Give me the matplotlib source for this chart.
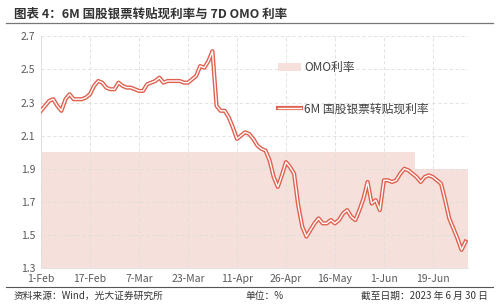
import matplotlib
matplotlib.use("Agg")
import matplotlib.pyplot as plt
import matplotlib.patheffects as pe
import numpy as np

plt.rcParams['font.family'] = ['Noto Sans CJK SC', 'DejaVu Sans']

# 6M 国股银票转贴现利率 (trading days from 1-Feb to 30-Jun 2023)
rate_6m = [
    2.25, 2.28, 2.31, 2.32, 2.28, 2.25, 2.32, 2.35, 2.32, 2.32,
    2.32, 2.33, 2.35, 2.40, 2.43, 2.42, 2.39, 2.38, 2.38, 2.42,
    2.40, 2.39, 2.39, 2.38, 2.37, 2.37, 2.41, 2.42, 2.43, 2.45,
    2.42, 2.43, 2.43, 2.43, 2.43, 2.42, 2.42, 2.44, 2.46, 2.52,
    2.51, 2.55, 2.61, 2.28, 2.25, 2.25, 2.21, 2.15, 2.08, 2.10,
    2.12, 2.11, 2.08, 2.04, 2.02, 2.01, 1.95, 1.85, 1.79, 1.86,
    1.94, 1.91, 1.87, 1.68, 1.55, 1.49, 1.53, 1.57, 1.60, 1.57,
    1.57, 1.59, 1.57, 1.59, 1.63, 1.65, 1.61, 1.59, 1.65, 1.72,
    1.82, 1.69, 1.71, 1.65, 1.83, 1.83, 1.82, 1.83, 1.87, 1.90,
    1.89, 1.87, 1.85, 1.82, 1.85, 1.86, 1.85, 1.83, 1.81, 1.71,
    1.60, 1.54, 1.48, 1.41, 1.46,
]
# 7D OMO 利率
omo = [2.0] * 92 + [1.9] * 13

tick_labels = ["1-Feb", "17-Feb", "7-Mar", "23-Mar", "11-Apr",
               "26-Apr", "16-May", "1-Jun", "19-Jun"]
tick_step = 12

title = "图表 4：6M 国股银票转贴现利率与 7D OMO 利率"
source = "资料来源：Wind，光大证券研究所"
unit = "单位：%"
date_note = "截至日期：2023 年 6 月 30 日"

red = "#E0604E"
fill_c = "#F6E0DB"
grid_c = "#DDDDDD"
txt_c = "#595959"

fig = plt.figure(figsize=(5.0, 3.06), dpi=100)
ax = fig.add_axes([0.082, 0.124, 0.854, 0.7574])

x = np.arange(len(rate_6m))
bars = ax.bar(x, omo, width=1.0, color=fill_c, label="OMO利率", zorder=1, linewidth=0)
line, = ax.plot(x, rate_6m, color="white", lw=1.0, zorder=3,
                label="6M 国股银票转贴现利率",
                path_effects=[pe.Stroke(linewidth=3.0, foreground=red), pe.Normal()])

ax.set_xlim(0, 104.6)
ax.set_ylim(1.3, 2.7)
ax.set_yticks(np.arange(1.3, 2.71, 0.2))
ax.set_yticklabels([f"{v:.1f}" for v in np.arange(1.3, 2.71, 0.2)])
ax.set_xticks(np.arange(len(tick_labels)) * tick_step)
ax.set_xticklabels(tick_labels)
ax.tick_params(axis='both', length=0, labelsize=7.5, colors=txt_c, pad=4)

ax.grid(True, color=grid_c, lw=0.6, ls=(0, (4, 3)), zorder=2)
ax.set_axisbelow(False)
for s in ["top", "right"]:
    ax.spines[s].set_visible(False)
for s in ["left", "bottom"]:
    ax.spines[s].set_color("#E3E3E3")
    ax.spines[s].set_linewidth(0.7)

leg = ax.legend([bars, line], ["OMO利率", "6M 国股银票转贴现利率"],
                loc="upper left", bbox_to_anchor=(0.555, 0.80),
                bbox_transform=fig.transFigure, frameon=False,
                fontsize=8.5, handlelength=2.0, handletextpad=0.25,
                labelspacing=2.4, borderpad=0, borderaxespad=0)
for t in leg.get_texts():
    t.set_color("#404040")

fig.text(0.028, 0.955, title, fontsize=9, fontweight="bold",
         color="#333333", va="center", ha="left")
fig.add_artist(plt.Line2D([0.012, 0.986], [0.926, 0.926],
                          transform=fig.transFigure, color="#777777", lw=0.9))
fig.add_artist(plt.Line2D([0.012, 0.986], [0.061, 0.061],
                          transform=fig.transFigure, color="#555555", lw=0.8))
fig.text(0.028, 0.032, source, fontsize=7, color="#333333", va="center", ha="left")
fig.text(0.53, 0.032, unit, fontsize=7, color="#333333", va="center", ha="center")
fig.text(0.976, 0.032, date_note, fontsize=7, color="#333333", va="center", ha="right")

fig.savefig("out.png", dpi=100)
